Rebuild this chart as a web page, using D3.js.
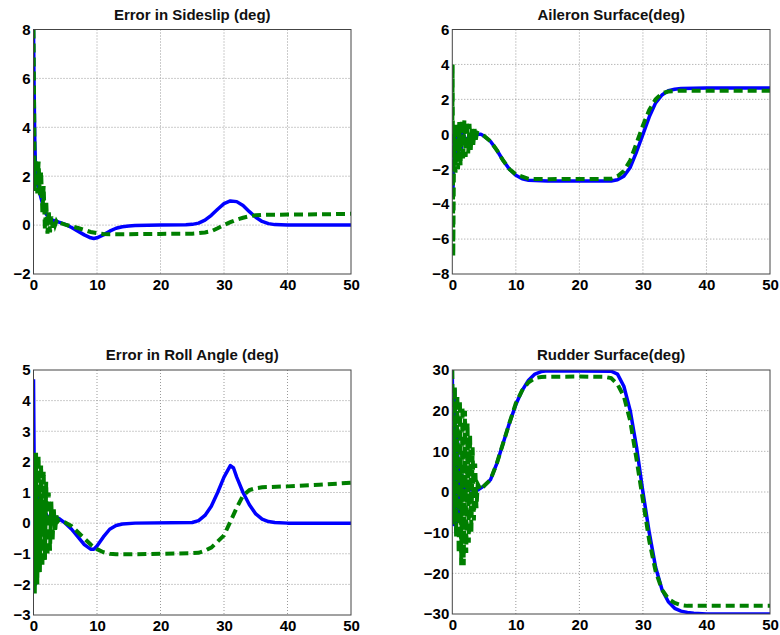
<!DOCTYPE html>
<html><head><meta charset="utf-8">
<script src="https://cdn.jsdelivr.net/npm/d3@7"></script>
<style>
html,body{margin:0;padding:0;background:#fff;}
text{font-family:"Liberation Sans",Arial,sans-serif;font-weight:bold;}
</style></head>
<body><svg id="c" width="780" height="635"></svg>
<script>
// ---------- DATA ----------
const xTicks = [0,10,20,30,40,50];
const titles = ["Error in Sideslip (deg)","Aileron Surface(deg)","Error in Roll Angle (deg)","Rudder Surface(deg)"];
const yTicksSideslip = [-2,0,2,4,6,8];
const yTicksAileron = [-8,-6,-4,-2,0,2,4,6];
const yTicksRoll = [-3,-2,-1,0,1,2,3,4,5];
const yTicksRudder = [-30,-20,-10,0,10,20,30];

// Sideslip
const sideslipBlueT = [0,0.1,0.2,0.3,0.5,0.8,1.2,1.6,2,2.5,3,3.5,4,5,6,7,8,9,9.5,10,11,12,13,14,15,16,20,24,25,26,27,28,29,30,31,32,33,34,35,36,37,38,40,50];
const sideslipBlue  = [8,5.5,3.5,2.5,1.8,1.5,1.1,0.7,0.45,0.3,0.2,0.17,0.12,0.03,-0.1,-0.25,-0.4,-0.52,-0.55,-0.52,-0.4,-0.25,-0.13,-0.07,-0.04,-0.02,0,0.01,0.03,0.08,0.2,0.4,0.65,0.88,0.99,0.96,0.8,0.55,0.32,0.15,0.06,0.02,0,0];
const sideslipGreenT = [0,0.2,0.4,0.6,0.8,1.0,1.2,1.4,1.6,1.8,2.0,2.2,2.4,2.6,2.8,3.0,3.2,3.4,3.6,3.8,4.0,5,6,7,8,9,10,11,12,15,20,25,26,27,28,29,30,31,32,33,34,35,36,40,45,50];
const sideslipGreen  = [8,1.4,2.7,1.3,2.6,1.2,2.2,0.5,1.6,-0.2,1.0,-0.35,0.6,-0.3,0.35,-0.1,0.2,0,0.15,0.05,0.1,0.02,-0.05,-0.12,-0.2,-0.28,-0.33,-0.36,-0.37,-0.37,-0.36,-0.35,-0.33,-0.3,-0.25,-0.13,0,0.12,0.22,0.3,0.36,0.4,0.42,0.43,0.44,0.46];

// Aileron
const aileronBlueT = [0,0.1,0.2,0.4,0.6,0.8,1.0,1.2,1.4,1.6,2,3,4,4.5,5,6,7,8,9,10,11,12,13,15,25,26,27,28,29,30,31,32,33,34,35,36,40,50];
const aileronBlue  = [0,-3.5,-1,0,-1.5,0.3,-1.2,0.3,-0.8,0.2,-0.3,-0.1,0,0,-0.1,-0.4,-0.9,-1.5,-2.0,-2.35,-2.55,-2.63,-2.65,-2.67,-2.67,-2.6,-2.4,-1.9,-1.0,0,1.0,1.8,2.25,2.5,2.58,2.62,2.65,2.65];
const aileronGreenT = [0,0.05,0.15,0.3,0.5,0.7,0.9,1.1,1.3,1.5,1.7,1.9,2.1,2.3,2.5,2.7,2.9,3.1,3.3,3.5,3.7,3.9,4.5,5,6,7,8,9,10,12,15,25,26,27,28,29,30,31,32,33,34,36,50];
const aileronGreen  = [0,4,-7,0.5,-2.2,0.6,-2.0,0.7,-1.8,0.8,-1.5,0.8,-1.3,0.75,-1.1,0.6,-0.9,0.45,-0.6,0.3,-0.3,0.1,0,-0.1,-0.4,-0.9,-1.5,-2.0,-2.3,-2.55,-2.57,-2.55,-2.4,-2.1,-1.5,-0.5,0.5,1.4,2.0,2.35,2.45,2.5,2.5];

// Roll
const rollBlueT = [0,0.1,0.2,0.3,0.4,0.6,0.8,1,1.3,1.6,2,2.5,3,3.5,4,5,6,7,8,9,9.5,10,11,12,13,14,16,25,26,27,28,29,30,31,31.5,32,33,34,35,36,37,38,40,50];
const rollBlue  = [4.7,2,-1.5,-2,1.5,-1.2,1,-0.6,0.5,-0.2,0.3,0.1,0.25,0.2,0.15,0,-0.2,-0.45,-0.7,-0.85,-0.85,-0.75,-0.45,-0.2,-0.08,-0.03,0,0.02,0.08,0.25,0.55,1.0,1.5,1.88,1.8,1.5,1.0,0.6,0.3,0.13,0.05,0.02,0,0];
const rollGreenT = [0,0.2,0.4,0.6,0.8,1.0,1.2,1.4,1.6,1.8,2.0,2.2,2.4,2.6,2.8,3.0,3.2,3.4,3.6,3.8,4.0,5,6,7,8,9,10,11,12,13,15,20,25,26,27,28,29,30,31,32,33,34,35,36,40,45,50];
const rollGreen  = [2.3,-2.3,2.3,-2.0,2.2,-1.6,1.9,-1.4,1.7,-1.2,1.35,-1.05,1.0,-0.9,0.7,-0.6,0.45,-0.3,0.25,0.05,0.1,0.02,-0.1,-0.3,-0.5,-0.7,-0.85,-0.95,-1.0,-1.02,-1.02,-1.0,-0.98,-0.97,-0.9,-0.8,-0.6,-0.4,0.05,0.5,0.9,1.08,1.14,1.17,1.2,1.25,1.32];

// Rudder
const rudderBlueT = [0,0.2,0.4,0.6,0.8,1.0,1.2,1.4,1.6,2,3,4,5,6,7,8,9,10,11,12,13,14,15,25,26,27,28,29,30,31,32,33,34,35,36,37,38,40,50];
const rudderBlue  = [30,-8,25,-10,15,-5,8,-2,4,1,0.5,0.5,1.5,3,7,12,17,21.5,25,27.5,29,29.6,29.8,29.7,29,26,20,11,0,-10,-18.5,-24,-27,-28.6,-29.3,-29.6,-29.8,-30,-30];
const rudderGreenT = [0,0.2,0.4,0.6,0.8,1.0,1.2,1.4,1.6,1.8,2.0,2.2,2.4,2.6,2.8,3.0,3.2,3.4,3.6,3.8,4.0,4.5,5,6,7,8,9,10,11,12,13,14,20,24,25,26,27,28,29,30,31,32,33,34,35,36,37,50];
const rudderGreen  = [30,-8,26,-11,23.5,-15,22.5,-18,21,-18,20,-15,17,-12.5,14,-10,11,-7,7,-4,2,0.5,1.5,3,7,12,17,21.8,25,27,28,28.3,28.4,28.3,28,26.5,23.5,17.5,8,-2,-12,-19.5,-24,-26.3,-27.3,-27.8,-28,-28];

// ---------- DRAW ----------
const svg = d3.select("#c");
const panels = [
  {x0:33.5,x1:351,y0:29.5,y1:274,dom:[-2,8],ticks:yTicksSideslip,bt:sideslipBlueT,b:sideslipBlue,gt:sideslipGreenT,g:sideslipGreen,title:titles[0]},
  {x0:452.3,x1:770,y0:29.5,y1:274,dom:[-8,6],ticks:yTicksAileron,bt:aileronBlueT,b:aileronBlue,gt:aileronGreenT,g:aileronGreen,title:titles[1]},
  {x0:33.5,x1:351,y0:370,y1:615,dom:[-3,5],ticks:yTicksRoll,bt:rollBlueT,b:rollBlue,gt:rollGreenT,g:rollGreen,title:titles[2]},
  {x0:452.3,x1:770,y0:370,y1:614,dom:[-30,30],ticks:yTicksRudder,bt:rudderBlueT,b:rudderBlue,gt:rudderGreenT,g:rudderGreen,title:titles[3]}
];

panels.forEach((p,i)=>{
  const x = d3.scaleLinear().domain([0,50]).range([p.x0,p.x1]);
  const y = d3.scaleLinear().domain(p.dom).range([p.y1,p.y0]);
  const g = svg.append("g");
  const w = p.x1-p.x0, h = p.y1-p.y0;
  const clipId = "clip"+i;
  g.append("clipPath").attr("id",clipId).append("rect").attr("x",p.x0).attr("y",p.y0).attr("width",w).attr("height",h);

  // grid
  g.append("g").selectAll("line").data(xTicks.slice(1,-1)).join("line")
    .attr("x1",d=>x(d)).attr("x2",d=>x(d)).attr("y1",p.y0).attr("y2",p.y1)
    .attr("stroke","#999").attr("stroke-width",1).attr("stroke-dasharray","1,2");
  g.append("g").selectAll("line").data(p.ticks.slice(1,-1)).join("line")
    .attr("y1",d=>y(d)).attr("y2",d=>y(d)).attr("x1",p.x0).attr("x2",p.x1)
    .attr("stroke","#999").attr("stroke-width",1).attr("stroke-dasharray","1,2");

  // axes labels
  const ax = g.append("g").attr("transform",`translate(0,${p.y1})`)
    .call(d3.axisBottom(x).tickValues(xTicks).tickSize(0).tickPadding(5).tickFormat(d3.format("d")));
  ax.select(".domain").remove();
  ax.selectAll("text").attr("font-size",15).attr("fill","#000").style("font-family","'Liberation Sans',Arial,sans-serif").style("font-weight","bold");
  const ay = g.append("g").attr("transform",`translate(${p.x0},0)`)
    .call(d3.axisLeft(y).tickValues(p.ticks).tickSize(0).tickPadding(3).tickFormat(d3.format("d")));
  ay.select(".domain").remove();
  ay.selectAll("text").attr("font-size",15).attr("fill","#000").style("font-family","'Liberation Sans',Arial,sans-serif").style("font-weight","bold");

  // lines
  const blue = p.bt.map((t,k)=>[t,p.b[k]]);
  const green = p.gt.map((t,k)=>[t,p.g[k]]);
  const lineL = d3.line().x(d=>x(d[0])).y(d=>y(d[1]));
  const lc = g.append("g").attr("clip-path",`url(#${clipId})`);
  lc.append("path").attr("d",lineL(blue)).attr("fill","none").attr("stroke","#0000ff").attr("stroke-width",3.5).attr("stroke-linejoin","round");
  lc.append("path").attr("d",lineL(green)).attr("fill","none").attr("stroke","#007f00").attr("stroke-width",4).attr("stroke-dasharray","9,5");

  // box
  g.append("rect").attr("x",p.x0).attr("y",p.y0).attr("width",w).attr("height",h)
    .attr("fill","none").attr("stroke","#444").attr("stroke-width",1);

  // title
  g.append("text").attr("x",(p.x0+p.x1)/2).attr("y",p.y0-10).attr("text-anchor","middle")
    .attr("font-size",15).attr("fill","#111").text(p.title);
});
</script></body></html>
